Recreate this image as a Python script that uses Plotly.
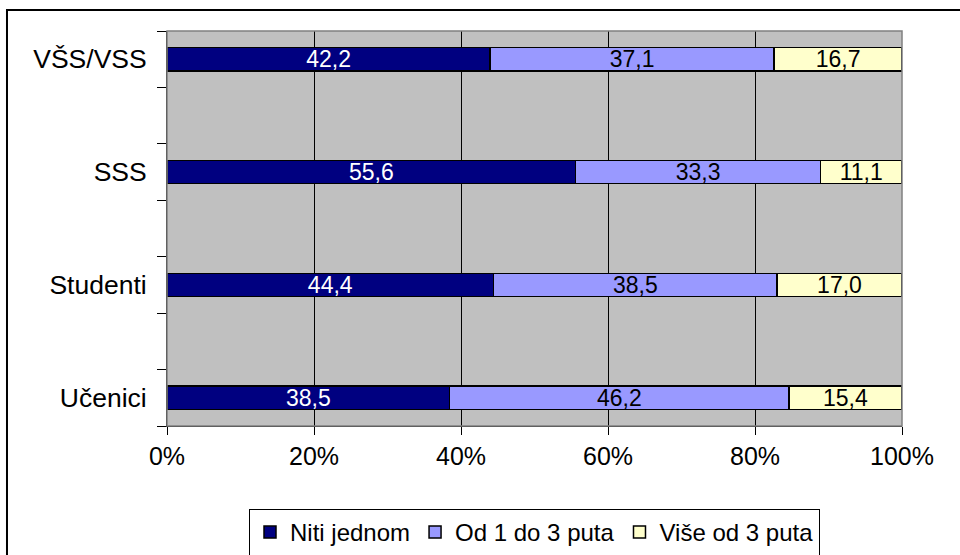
import plotly.graph_objects as go

# data
groups = ["Učenici", "Studenti", "SSS", "VŠS/VSS"]
niti_jednom = [38.5, 44.4, 55.6, 42.2]
od_1_do_3 = [46.2, 38.5, 33.3, 37.1]
vise_od_3 = [15.4, 17.0, 11.1, 16.7]
series_names = ["Niti jednom", "Od 1 do 3 puta", "Više od 3 puta"]
x_ticks = [0, 20, 40, 60, 80, 100]
x_labels = ["0%", "20%", "40%", "60%", "80%", "100%"]

# blank rows between the groups, like the original sheet
y_order = ["Učenici", " ", "Studenti", "  ", "SSS", "   ", "VŠS/VSS"]

colors = ["#000080", "#9999FF", "#FFFFCC"]
text_colors = ["white", "black", "black"]
font = "Arial, Liberation Sans, sans-serif"


def lbl(vals):
    return [f"{v:.1f}".replace(".", ",") for v in vals]


fig = go.Figure()
for name, vals, col, tcol in zip(series_names, [niti_jednom, od_1_do_3, vise_od_3], colors, text_colors):
    fig.add_trace(go.Bar(
        y=groups, x=vals, name=name, orientation="h",
        marker=dict(color=col, line=dict(color="black", width=1.5)),
        width=0.41,
        text=lbl(vals), textposition="inside", insidetextanchor="middle",
        textangle=0, textfont=dict(color=tcol, size=23, family=font),
        hoverinfo="skip",
    ))

fig.update_layout(
    barmode="stack", barnorm="percent",
    width=960, height=555,
    margin=dict(l=167, r=58, t=31, b=129, autoexpand=False),
    paper_bgcolor="white", plot_bgcolor="#C0C0C0",
    font=dict(family=font, size=25, color="black"),
    uniformtext=dict(minsize=23, mode="show"),
    showlegend=True,
    legend=dict(orientation="h", x=0.5, xanchor="center", y=-0.21, yanchor="top",
                bgcolor="white", bordercolor="black", borderwidth=1,
                font=dict(size=24), traceorder="normal", itemclick=False),
)

fig.update_xaxes(
    range=[0, 100], tickmode="array", tickvals=x_ticks, ticktext=x_labels,
    showgrid=True, gridcolor="black", gridwidth=1,
    ticks="outside", ticklen=8, tickcolor="black",
    showline=True, linecolor="black", linewidth=1,
    tickfont=dict(size=25), zeroline=False, fixedrange=True, automargin=False,
)
fig.update_yaxes(
    type="category", categoryorder="array", categoryarray=y_order,
    range=[-0.5, 6.5], tickson="boundaries",
    ticks="outside", ticklen=9, tickcolor="black", ticklabelstandoff=14,
    showline=True, linecolor="black", linewidth=1,
    showgrid=False, tickfont=dict(size=26.5), fixedrange=True, automargin=False,
)

# grey plot-area border and the outer chart frame
fig.add_shape(type="rect", xref="paper", yref="paper", x0=0, y0=0, x1=1, y1=1,
              line=dict(color="#808080", width=1.5))
fig.add_shape(type="rect", xref="paper", yref="paper",
              x0=-0.2177, y0=-0.5, x1=1.2, y1=1.0532,
              line=dict(color="black", width=2))

# drop the browser's default body margin so the chart sits at the page origin
fig.write_html("out.html", config={"displayModeBar": False},
               post_script="document.body.style.margin='0';")
